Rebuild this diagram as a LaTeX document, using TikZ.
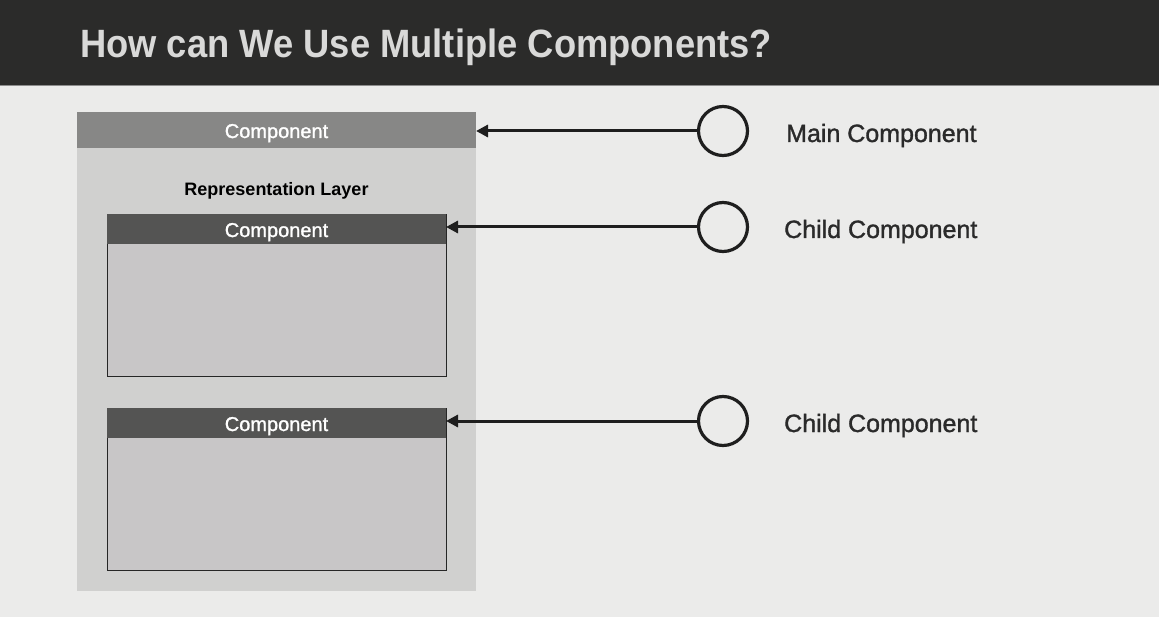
\documentclass[tikz,border=0pt]{standalone}
\usepackage{fontspec}
\setmainfont{Liberation Sans}
\newfontfamily\medfont[FakeBold=1.3]{Liberation Sans}
\newfontfamily\titlefont[FakeStretch=0.92]{Liberation Sans Bold}
\usetikzlibrary{arrows.meta}
\definecolor{bg}{HTML}{EBEBEA}
\definecolor{hdr}{HTML}{2B2B2A}
\definecolor{ttl}{HTML}{D9D9D8}
\definecolor{outer}{HTML}{D0D0CF}
\definecolor{topbar}{HTML}{878786}
\definecolor{chdr}{HTML}{545453}
\definecolor{cbody}{HTML}{C8C6C7}
\definecolor{ink}{HTML}{1E1E1E}
\definecolor{lbl}{HTML}{2A2A2A}
\tikzset{
  comptext/.style={text=white,font=\medfont\fontsize{20}{24}\selectfont,anchor=base,inner sep=0pt},
  sidelabel/.style={text=lbl,font=\medfont\fontsize{25}{30}\selectfont,anchor=base west,inner sep=0pt},
  marker/.style={circle,draw=ink,line width=3.2pt,minimum size=49pt,inner sep=0pt},
  pointer/.style={draw=ink,line width=3pt,-{Triangle[length=12pt,width=12pt]}},
}
\begin{document}
\begin{tikzpicture}[x=1pt,y=-1pt]
\useasboundingbox (0,0) rectangle (1159,617);
\fill[bg] (0,0) rectangle (1159,617);
% header
\fill[hdr] (0,0) rectangle (1159,85);
\fill[black!45] (0,85) rectangle (1159,86.5);
\node[text=ttl,font=\titlefont\fontsize{39.5}{44}\selectfont,anchor=base west,inner sep=0pt] (title) at (80,58) {How can We Use Multiple Components?};
% outer box
\fill[outer] (77,112) rectangle (476,591);
\fill[topbar] (77,112) rectangle (476,148);
\coordinate (mainR) at (476,131);
\node[comptext] (maintxt) at (276.5,138) {Component};
\node[font=\bfseries\fontsize{18}{22}\selectfont,anchor=base,inner sep=0pt] (rep) at (276.5,196) {Representation Layer};
% child 1
\draw[fill=cbody,draw=black!85,line width=0.8pt] (107,214) rectangle (446,376);
\fill[chdr] (107,214) rectangle (446,244);
\coordinate (c1R) at (446,227);
\node[comptext] (c1txt) at (276.5,237) {Component};
% child 2
\draw[fill=cbody,draw=black!85,line width=0.8pt] (107,408) rectangle (446,570);
\fill[chdr] (107,408) rectangle (446,438);
\coordinate (c2R) at (446,421);
\node[comptext] (c2txt) at (276.5,431) {Component};
% markers
\node[marker] (m1) at (723,131) {};
\node[marker] (m2) at (723,227) {};
\node[marker] (m3) at (723,421) {};
\draw[pointer] (m1.west) -- (mainR);
\draw[pointer] (m2.west) -- (c1R);
\draw[pointer] (m3.west) -- (c2R);
% labels
\node[sidelabel] (l1) at (786,142) {Main Component};
\node[sidelabel] (l2) at (784,238) {Child Component};
\node[sidelabel] (l3) at (784,432) {Child Component};
\end{tikzpicture}
\end{document}
